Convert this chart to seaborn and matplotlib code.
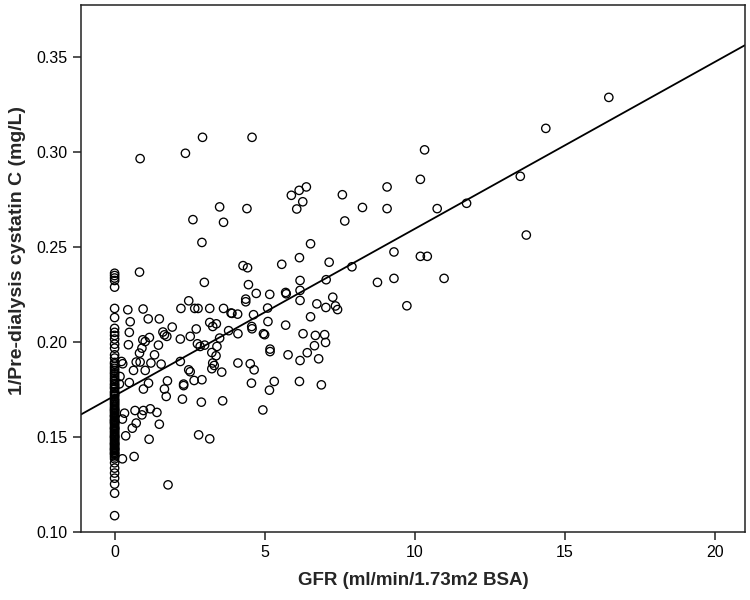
import numpy as np
import pandas as pd
import matplotlib
matplotlib.use("Agg")
import matplotlib.pyplot as plt
import seaborn as sns

# Patients with GFR = 0 (anuric) -- the column at x = 0 is heavily overplotted
gfr_zero_y = [0.2362, 0.2350, 0.2337, 0.2324, 0.2289, 0.2177, 0.2129, 0.2072,
              0.2051, 0.2035, 0.2016, 0.1989, 0.1968, 0.1933, 0.1916, 0.1893,
              0.1872, 0.1851, 0.1833, 0.1811, 0.1793, 0.1781, 0.1766, 0.1754,
              0.1740, 0.1728, 0.1714, 0.1702, 0.1688, 0.1681, 0.1667, 0.1659,
              0.1646, 0.1638, 0.1625, 0.1617, 0.1604, 0.1596, 0.1583, 0.1575,
              0.1562, 0.1554, 0.1541, 0.1533, 0.1520, 0.1507, 0.1494, 0.1481,
              0.1467, 0.1454, 0.1441, 0.1428, 0.1412, 0.1396, 0.1386, 0.1365,
              0.1337, 0.1311, 0.1284, 0.1253, 0.1205, 0.1087,
              0.1885, 0.1862, 0.1840, 0.1822, 0.1802, 0.1775, 0.1760, 0.1735,
              0.1721, 0.1695, 0.1674, 0.1652, 0.1631, 0.1610, 0.1590, 0.1570,
              0.1548, 0.1527, 0.1513, 0.1500, 0.1487, 0.1473, 0.1460, 0.1447,
              0.1434, 0.1420, 0.1405, 0.1612, 0.1578, 0.1545, 0.1502, 0.1465,
              0.1437, 0.1415, 0.1642, 0.1588]

# Patients with residual GFR > 0
gfr_pos_x = [0.85, 2.36, 2.93, 4.58, 5.89, 6.15, 6.39, 6.27, 6.07, 4.41,
             3.50, 2.61, 3.63, 2.91, 7.59, 9.08, 8.26, 9.08, 7.67, 10.33,
             10.19, 10.75, 11.73, 13.52, 13.72, 14.37, 16.47, 6.53, 7.15, 7.91,
             9.31, 10.19, 10.42, 7.05, 8.76, 9.31, 10.98, 7.27, 6.16, 5.57,
             4.28, 4.43, 4.46, 6.18, 4.72, 5.17, 5.70, 5.72, 6.18, 4.37,
             4.37, 6.18, 6.74, 7.04, 7.36, 7.43, 9.74, 5.10, 3.91, 4.10,
             4.63, 6.53, 5.11, 4.57, 5.70, 4.58, 4.11, 4.96, 5.00, 6.28,
             6.69, 7.00, 7.03, 6.66, 6.42, 6.80, 6.18, 5.78, 5.18, 5.18,
             4.11, 4.52, 4.65, 4.56, 5.32, 5.16, 6.16, 6.89, 4.94,
             0.83, 2.99, 2.47, 0.44, 0.95, 2.21, 2.67, 2.78, 3.17, 3.63,
             3.88, 0.52, 1.12, 1.49, 3.17, 3.27, 3.39, 2.72, 1.92, 1.61,
             1.66, 1.74, 0.49, 2.19, 2.52, 3.50, 3.80, 0.94, 1.16, 1.02,
             0.46, 1.46, 2.76, 2.85, 3.00, 3.41, 0.91, 0.83, 1.33, 3.24,
             3.38, 0.23, 0.27, 0.72, 0.85, 1.21, 1.55, 2.19, 3.27, 3.32,
             3.24, 3.57, 2.47, 2.52, 0.63, 1.02, 0.18, 0.49, 1.13, 1.76,
             2.65, 2.91, 0.16, 0.96, 1.66, 2.30, 2.30, 1.72, 2.26, 2.89,
             3.60, 0.33, 0.26, 0.68, 0.96, 0.91, 1.19, 1.41, 0.72, 0.59,
             1.49, 0.37, 1.15, 2.80, 3.17, 0.26, 0.65, 1.78]
gfr_pos_y = [0.2965, 0.2993, 0.3077, 0.3077, 0.2772, 0.2798, 0.2816, 0.2738, 0.2700, 0.2702,
             0.2711, 0.2644, 0.2630, 0.2524, 0.2775, 0.2816, 0.2708, 0.2702, 0.2637, 0.3011,
             0.2856, 0.2702, 0.2730, 0.2872, 0.2563, 0.3124, 0.3287, 0.2517, 0.2420, 0.2396,
             0.2474, 0.2451, 0.2451, 0.2328, 0.2314, 0.2335, 0.2335, 0.2236, 0.2444, 0.2409,
             0.2402, 0.2391, 0.2302, 0.2324, 0.2256, 0.2251, 0.2261, 0.2254, 0.2272, 0.2226,
             0.2212, 0.2219, 0.2201, 0.2182, 0.2190, 0.2171, 0.2191, 0.2179, 0.2151, 0.2147,
             0.2144, 0.2133, 0.2108, 0.2082, 0.2089, 0.2070, 0.2044, 0.2044, 0.2039, 0.2044,
             0.2035, 0.2039, 0.1998, 0.1981, 0.1944, 0.1912, 0.1903, 0.1933, 0.1963, 0.1950,
             0.1890, 0.1886, 0.1854, 0.1784, 0.1793, 0.1747, 0.1793, 0.1775, 0.1643,
             0.2368, 0.2314, 0.2217, 0.2170, 0.2174, 0.2177, 0.2177, 0.2177, 0.2177, 0.2177,
             0.2153, 0.2107, 0.2122, 0.2122, 0.2103, 0.2082, 0.2096, 0.2069, 0.2079, 0.2053,
             0.2038, 0.2030, 0.2051, 0.2016, 0.2030, 0.2021, 0.2060, 0.2012, 0.2024, 0.2003,
             0.1986, 0.1984, 0.1991, 0.1977, 0.1984, 0.1977, 0.1968, 0.1942, 0.1933, 0.1945,
             0.1928, 0.1898, 0.1886, 0.1895, 0.1895, 0.1890, 0.1884, 0.1898, 0.1890, 0.1877,
             0.1860, 0.1842, 0.1854, 0.1844, 0.1851, 0.1851, 0.1819, 0.1787, 0.1784, 0.1796,
             0.1798, 0.1802, 0.1780, 0.1753, 0.1753, 0.1779, 0.1771, 0.1714, 0.1700, 0.1684,
             0.1691, 0.1626, 0.1595, 0.1640, 0.1640, 0.1617, 0.1649, 0.1630, 0.1574, 0.1547,
             0.1568, 0.1507, 0.1489, 0.1512, 0.1491, 0.1386, 0.1398, 0.1249]

x_ticks = [0, 5, 10, 15, 20]
y_ticks = [0.10, 0.15, 0.20, 0.25, 0.30, 0.35]
x_label = "GFR (ml/min/1.73m2 BSA)"
y_label = "1/Pre-dialysis cystatin C (mg/L)"

gfr = [0.0] * len(gfr_zero_y) + gfr_pos_x
inv_cys = gfr_zero_y + gfr_pos_y
df = pd.DataFrame({"gfr": gfr, "inv_cys": inv_cys})

sns.set_style("ticks")
plt.rcParams["font.family"] = ["Liberation Sans", "DejaVu Sans"]

fig = plt.figure(figsize=(7.5, 6), dpi=100)
ax = fig.add_axes([0.108, 0.113, 0.885, 0.879])
ax.set_xlim(-1.12, 21.0)
ax.set_ylim(0.10, 0.3774)

sns.regplot(data=df, x="gfr", y="inv_cys", ax=ax, ci=None, truncate=False,
            scatter_kws=dict(facecolors="none", edgecolors="black", s=36,
                             linewidths=0.95, alpha=1),
            line_kws=dict(color="black", lw=1.3))

ax.set_xlim(-1.12, 21.0)
ax.set_ylim(0.10, 0.3774)
ax.set_xticks(x_ticks)
ax.set_yticks(y_ticks)
ax.set_yticklabels([f"{v:.2f}" for v in y_ticks])
ax.tick_params(axis="both", labelsize=11.5, length=6, width=1.1,
               color="#222222", labelcolor="black", direction="out")
ax.tick_params(top=False, right=False)
for sp in ax.spines.values():
    sp.set_visible(True)
    sp.set_linewidth(1.1)
    sp.set_color("#222222")
ax.set_xlabel(x_label, fontsize=13.5, fontweight="bold", labelpad=8)
ax.set_ylabel(y_label, fontsize=14, fontweight="bold")
ax.yaxis.set_label_coords(-0.083, 0.535)

fig.savefig("out.png", dpi=100, facecolor="white")
